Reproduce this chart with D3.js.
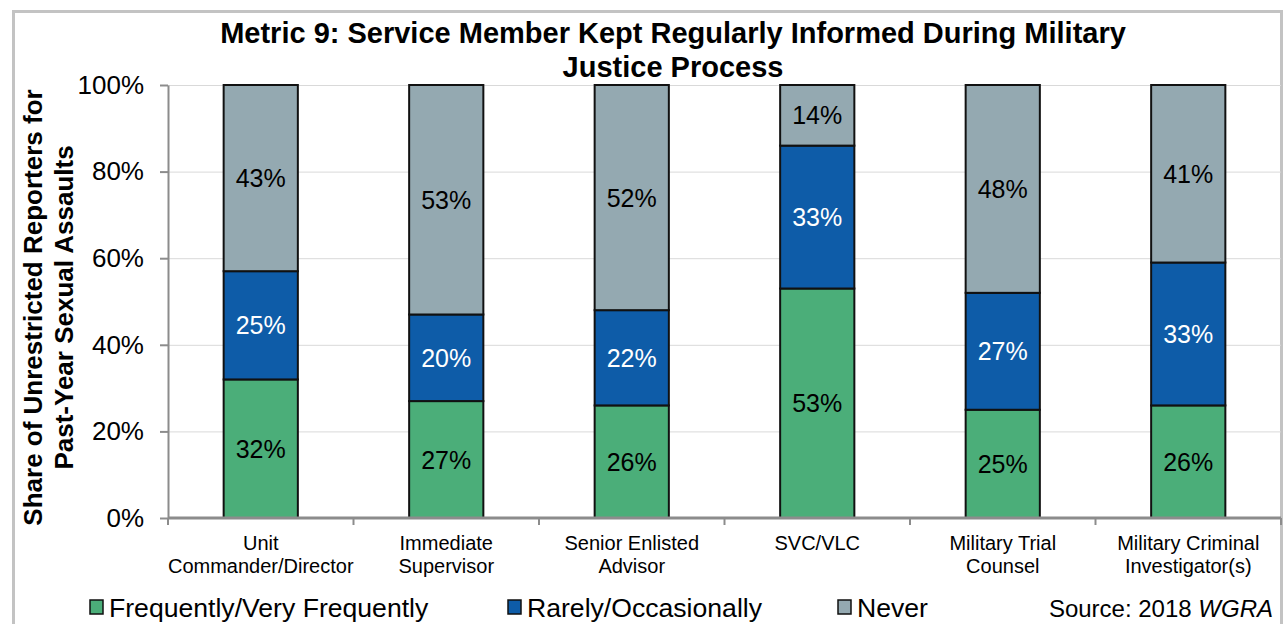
<!DOCTYPE html>
<html>
<head>
<meta charset="utf-8">
<script src="https://cdn.jsdelivr.net/npm/d3@7"></script>
<style>
  body { margin: 0; background: #fff; }
  svg { font-family: 'Liberation Sans', Arial, sans-serif; }
</style>
</head>
<body>
<div id="graf"></div>
<script>
// I. Datos
categorias = [['Unit', 'Commander/Director'], ['Immediate', 'Supervisor'], ['Senior Enlisted', 'Advisor'],
              ['SVC/VLC'], ['Military Trial', 'Counsel'], ['Military Criminal', 'Investigator(s)']]
frecuente = [32, 27, 26, 53, 25, 26]
raramente = [25, 20, 22, 33, 27, 33]
nunca = [43, 53, 52, 14, 48, 41]
series = ['Frequently/Very Frequently', 'Rarely/Occasionally', 'Never']
colores = ['#4BAE79', '#0E5CA8', '#94A9B1']
colorTexto = ['#000', '#fff', '#000']
ticksY = [0, 20, 40, 60, 80, 100]

// II. Configuración
ancho_total = 1285
alto_total = 624
margins = { top: 85, left: 168, right: 4, bottom: 106 }
ancho = ancho_total - margins.left - margins.right
alto = alto_total - margins.top - margins.bottom

svg = d3.select('#graf').append('svg')
  .attr('width', ancho_total)
  .attr('height', alto_total)

// borde exterior
svg.append('path')
  .attr('d', 'M13.5,624 L13.5,11.5 L1281.5,11.5 L1281.5,624')
  .attr('fill', 'none')
  .attr('stroke', '#c3c3c3')
  .attr('stroke-width', 3)

g = svg.append('g')
  .attr('transform', `translate(${margins.left},${margins.top})`)

xScale = d3.scaleBand()
  .domain(d3.range(categorias.length))
  .range([0, ancho])
  .paddingInner(0.6)
  .paddingOuter(0.3)

yScale = d3.scaleLinear().domain([0, 100]).range([alto, 0])

// grid
g.selectAll('.grid')
  .data(ticksY.slice(1))
  .enter().append('line')
  .attr('x1', 0).attr('x2', ancho)
  .attr('y1', d => yScale(d) + 0.5).attr('y2', d => yScale(d) + 0.5)
  .attr('stroke', '#d9d9d9')
  .attr('stroke-width', 1)

// datos apilados
tabla = categorias.map((c, i) => ({ i: i, s0: frecuente[i], s1: raramente[i], s2: nunca[i] }))
pila = d3.stack().keys(['s0', 's1', 's2'])(tabla)

capas = g.selectAll('.capa')
  .data(pila)
  .enter().append('g')

capas.selectAll('rect')
  .data((d, k) => d.map(p => ({ p: p, k: k })))
  .enter().append('rect')
  .attr('x', d => xScale(d.p.data.i))
  .attr('width', xScale.bandwidth())
  .attr('y', d => yScale(d.p[1]))
  .attr('height', d => yScale(d.p[0]) - yScale(d.p[1]))
  .attr('fill', d => colores[d.k])
  .attr('stroke', '#111')
  .attr('stroke-width', 2)

capas.selectAll('text')
  .data((d, k) => d.map(p => ({ p: p, k: k })))
  .enter().append('text')
  .attr('x', d => xScale(d.p.data.i) + xScale.bandwidth() / 2)
  .attr('y', d => yScale((d.p[0] + d.p[1]) / 2))
  .attr('dy', '0.36em')
  .attr('text-anchor', 'middle')
  .attr('font-size', '25px')
  .attr('fill', d => colorTexto[d.k])
  .text(d => (d.p[1] - d.p[0]) + '%')

// eje Y
ejeY = g.append('g')
  .call(d3.axisLeft(yScale).tickValues(ticksY).tickSize(8).tickSizeOuter(0).tickFormat(d => d + '%'))
ejeY.select('.domain').attr('stroke', '#8c8c8c').attr('stroke-width', 2)
ejeY.selectAll('.tick line').attr('stroke', '#8c8c8c').attr('stroke-width', 2)
ejeY.selectAll('.tick text').attr('font-size', '26px').attr('fill', '#000').attr('x', -24)
  .attr('font-family', "'Liberation Sans', Arial, sans-serif")

// eje X
ejeX = g.append('g')
  .attr('transform', `translate(0,${alto})`)
ejeX.append('line')
  .attr('x1', 0).attr('x2', ancho)
  .attr('y1', 0).attr('y2', 0)
  .attr('stroke', '#8c8c8c').attr('stroke-width', 3)
ejeX.selectAll('.tk')
  .data(d3.range(categorias.length + 1))
  .enter().append('line')
  .attr('x1', d => d * xScale.step()).attr('x2', d => d * xScale.step())
  .attr('y1', 0).attr('y2', 7)
  .attr('stroke', '#8c8c8c').attr('stroke-width', 2)

etiquetas = ejeX.selectAll('.lbl')
  .data(categorias)
  .enter().append('text')
  .attr('text-anchor', 'middle')
  .attr('font-size', '20px')
  .attr('fill', '#000')
  .attr('transform', (d, i) => `translate(${xScale(i) + xScale.bandwidth() / 2},32)`)
etiquetas.selectAll('tspan')
  .data(d => d)
  .enter().append('tspan')
  .attr('x', 0)
  .attr('dy', (d, j) => j === 0 ? 0 : 23)
  .text(d => d)

// título
titulo = svg.append('text')
  .attr('text-anchor', 'middle')
  .attr('font-size', '29px')
  .attr('font-weight', 'bold')
  .attr('transform', 'translate(673,43)')
titulo.append('tspan').attr('x', 0).text('Metric 9: Service Member Kept Regularly Informed During Military')
titulo.append('tspan').attr('x', 0).attr('dy', 34).text('Justice Process')

// título eje Y
tituloY = svg.append('text')
  .attr('text-anchor', 'middle')
  .attr('font-size', '26px')
  .attr('font-weight', 'bold')
  .attr('transform', `translate(42,${margins.top + alto / 2 + 6}) rotate(-90)`)
tituloY.append('tspan').attr('x', 0).text('Share of Unrestricted Reporters for')
tituloY.append('tspan').attr('x', 0).attr('dy', 31).text('Past-Year Sexual Assaults')

// leyenda
posLeyenda = [90, 508, 838]
leyenda = svg.selectAll('.ley')
  .data(series)
  .enter().append('g')
  .attr('transform', (d, i) => `translate(${posLeyenda[i]},600)`)
leyenda.append('rect')
  .attr('width', 13).attr('height', 14)
  .attr('fill', (d, i) => colores[i])
  .attr('stroke', '#111').attr('stroke-width', 1.5)
leyenda.append('text')
  .attr('x', 19).attr('y', 17)
  .attr('font-size', '26.6px')
  .text(d => d)

fuente = svg.append('text')
  .attr('x', 1273).attr('y', 617)
  .attr('text-anchor', 'end')
  .attr('font-size', '24px')
fuente.append('tspan').text('Source: 2018 ')
fuente.append('tspan').attr('font-style', 'italic').text('WGRA')
</script>
</body>
</html>
